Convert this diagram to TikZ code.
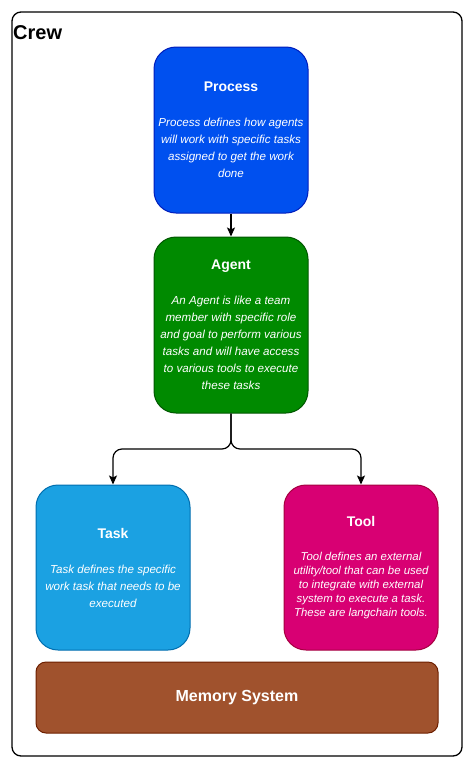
\documentclass[tikz,border=0pt]{standalone}
\usepackage{fontspec}
\setmainfont{Liberation Sans}
\usetikzlibrary{arrows.meta}
\definecolor{procfill}{HTML}{0050EF}
\definecolor{procline}{HTML}{001DBC}
\definecolor{agentfill}{HTML}{008A00}
\definecolor{agentline}{HTML}{005700}
\definecolor{taskfill}{HTML}{1BA1E2}
\definecolor{taskline}{HTML}{006EAF}
\definecolor{toolfill}{HTML}{D80073}
\definecolor{toolline}{HTML}{A50040}
\definecolor{memfill}{HTML}{A0522D}
\definecolor{memline}{HTML}{6D1F00}
\newcommand{\boxtitle}[1]{{\fontsize{14}{17}\selectfont\bfseries\upshape #1}}
\begin{document}
\begin{tikzpicture}[x=1pt,y=-1pt,
  box/.style={draw, line width=1pt, rounded corners=22pt, minimum width=154pt, minimum height=166pt,
    inner sep=2pt, align=center, text=white, font=\fontsize{11.6}{17}\selectfont\itshape},
  conn/.style={draw=black, line width=1.2pt, -{Stealth[length=9pt,width=8pt,inset=2pt]}}]
\useasboundingbox (0,0) rectangle (474,769);
\draw[line width=1.3pt, rounded corners=9pt] (12,12) rectangle (462,756);
\node[anchor=west, inner sep=0pt, font=\fontsize{20}{24}\selectfont\bfseries] (crew) at (13,33) {Crew};

\node[box, fill=procfill, draw=procline] (process) at (231,130)
 {\boxtitle{Process}\\[18pt]
  Process defines how agents\\ will work with specific tasks\\ assigned to get the work\\ done};

\node[box, fill=agentfill, draw=agentline, minimum height=176pt] (agent) at (231,325)
 {\boxtitle{Agent}\\[18pt]
  An Agent is like a team\\ member with specific role\\ and goal to perform various\\ tasks and will have access\\ to various tools to execute\\ these tasks};

\node[box, fill=taskfill, draw=taskline, minimum height=165pt] (task) at (113,567.5)
 {\boxtitle{Task}\\[18pt]
  Task defines the specific\\ work task that needs to be\\ executed};

\node[box, fill=toolfill, draw=toolline, minimum height=165pt, font=\fontsize{11.4}{14}\selectfont\itshape] (tool) at (361,567.5)
 {\boxtitle{Tool}\\[20pt]
  Tool defines an external\\ utility/tool that can be used\\ to integrate with external\\ system to execute a task.\\ These are langchain tools.};

\node[draw=memline, fill=memfill, line width=1pt, rounded corners=10pt, minimum width=402pt, minimum height=71pt,
  text=white, font=\fontsize{16}{19}\selectfont\bfseries] (memory) at (237,697.5) {Memory System};

\coordinate (split) at (231,449);
\draw[conn] (process) -- (agent);
\draw[conn, rounded corners=9pt] (agent) -- (split) -| (task);
\draw[conn, rounded corners=9pt] (agent) -- (split) -| (tool);
\end{tikzpicture}
\end{document}
